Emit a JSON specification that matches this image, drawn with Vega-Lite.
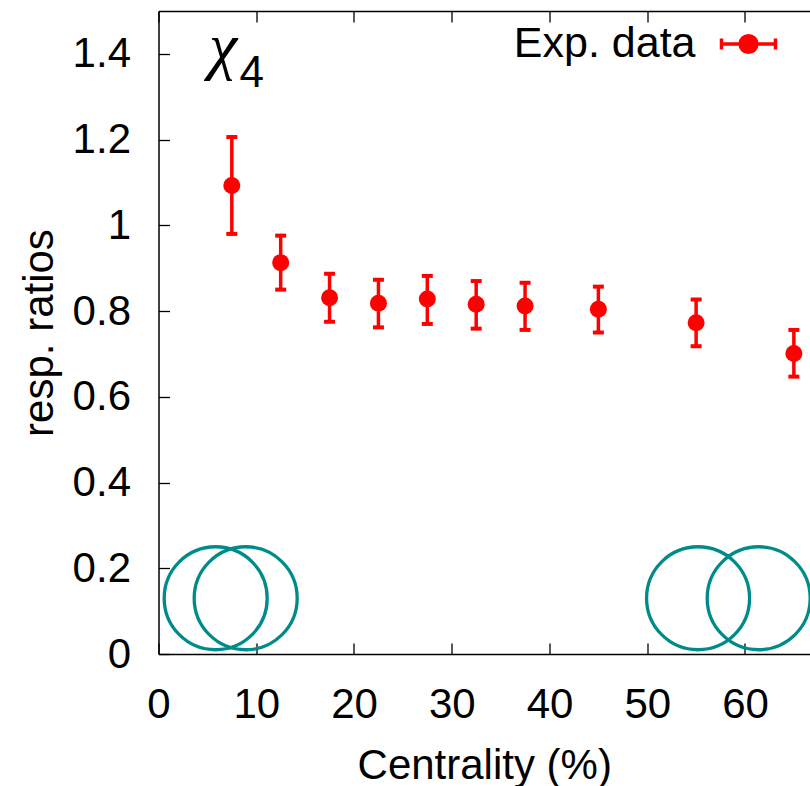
{
  "$schema": "https://vega.github.io/schema/vega-lite/v6.json",
  "autosize": {"type": "none"},
  "padding": {"left": 158.5, "top": 11, "right": 0, "bottom": 132},
  "width": 651.5,
  "height": 643,
  "background": "white",
  "config": {
    "view": {"stroke": null},
    "font": "Liberation Sans",
    "axis": {
      "grid": false,
      "domainColor": "#000000",
      "domainWidth": 1.5,
      "tickColor": "#000000",
      "tickWidth": 1.3,
      "tickSize": -11,
      "labelFont": "Liberation Sans",
      "labelFontSize": 42,
      "labelColor": "#000000",
      "labelFlush": false,
      "labelOverlap": false,
      "titleFont": "Liberation Sans",
      "titleFontSize": 42,
      "titleFontWeight": "normal",
      "titleColor": "#000000"
    },
    "axisLeft": {"labelPadding": 39, "titlePadding": 11},
    "axisBottom": {"labelPadding": 41, "titlePadding": 20}
  },
  "datasets": {
    "exp": [
      {"centrality": 7.5, "ratio": 1.093, "lo": 0.980, "hi": 1.206, "series": "Exp. data"},
      {"centrality": 12.5, "ratio": 0.913, "lo": 0.850, "hi": 0.976, "series": "Exp. data"},
      {"centrality": 17.5, "ratio": 0.831, "lo": 0.775, "hi": 0.887, "series": "Exp. data"},
      {"centrality": 22.5, "ratio": 0.818, "lo": 0.762, "hi": 0.873, "series": "Exp. data"},
      {"centrality": 27.5, "ratio": 0.828, "lo": 0.770, "hi": 0.882, "series": "Exp. data"},
      {"centrality": 32.5, "ratio": 0.816, "lo": 0.759, "hi": 0.870, "series": "Exp. data"},
      {"centrality": 37.5, "ratio": 0.812, "lo": 0.756, "hi": 0.866, "series": "Exp. data"},
      {"centrality": 45, "ratio": 0.804, "lo": 0.750, "hi": 0.857, "series": "Exp. data"},
      {"centrality": 55, "ratio": 0.773, "lo": 0.718, "hi": 0.827, "series": "Exp. data"},
      {"centrality": 65, "ratio": 0.701, "lo": 0.647, "hi": 0.756, "series": "Exp. data"}
    ],
    "nuclei": [
      {"centrality": 5.85, "ratio": 0.13},
      {"centrality": 8.92, "ratio": 0.13},
      {"centrality": 55.2, "ratio": 0.13},
      {"centrality": 61.4, "ratio": 0.13}
    ]
  },
  "resolve": {"axis": {"x": "independent"}},
  "layer": [
    {
      "data": {"name": "nuclei"},
      "mark": {"type": "point", "shape": "circle", "size": 10609, "filled": false, "stroke": "#008b8b", "strokeWidth": 3.3, "opacity": 1},
      "encoding": {
        "x": {"field": "centrality", "type": "quantitative", "scale": {"domain": [0, 66.65], "nice": false, "zero": false}, "title": "Centrality (%)", "axis": {"orient": "bottom", "values": [0, 10, 20, 30, 40, 50, 60]}},
        "y": {"field": "ratio", "type": "quantitative", "scale": {"domain": [0, 1.5], "nice": false}, "title": "resp. ratios", "axis": {"values": [0, 0.2, 0.4, 0.6, 0.8, 1, 1.2, 1.4], "format": ".1~f"}}
      }
    },
    {
      "data": {"name": "exp"},
      "mark": {"type": "rule", "color": "#ff0000", "strokeWidth": 3.5},
      "encoding": {
        "x": {"field": "centrality", "type": "quantitative", "title": null, "axis": {"orient": "top", "labels": false, "title": null, "values": [0, 10, 20, 30, 40, 50, 60]}},
        "y": {"field": "lo", "type": "quantitative", "title": "resp. ratios"},
        "y2": {"field": "hi"}
      }
    },
    {
      "data": {"name": "exp"},
      "mark": {"type": "tick", "orient": "horizontal", "color": "#ff0000", "size": 11, "thickness": 4, "opacity": 1},
      "encoding": {
        "x": {"field": "centrality", "type": "quantitative", "axis": null},
        "y": {"field": "lo", "type": "quantitative", "title": "resp. ratios"}
      }
    },
    {
      "data": {"name": "exp"},
      "mark": {"type": "tick", "orient": "horizontal", "color": "#ff0000", "size": 11, "thickness": 4, "opacity": 1},
      "encoding": {
        "x": {"field": "centrality", "type": "quantitative", "axis": null},
        "y": {"field": "hi", "type": "quantitative", "title": "resp. ratios"}
      }
    },
    {
      "data": {"name": "exp"},
      "mark": {"type": "point", "shape": "circle", "filled": true, "size": 289, "opacity": 1},
      "encoding": {
        "x": {"field": "centrality", "type": "quantitative", "axis": null},
        "y": {"field": "ratio", "type": "quantitative", "title": "resp. ratios"},
        "color": {
          "field": "series", "type": "nominal",
          "scale": {"range": ["#ff0000"]},
          "legend": {
            "orient": "none", "legendX": 561, "legendY": 4, "title": null, "padding": 0,
            "labelFont": "Liberation Sans", "labelFontSize": 43, "labelColor": "#000000",
            "labelAlign": "right", "labelOffset": -82, "labelLimit": 400,
            "symbolType": "M-1,0H1M-1,-0.2V0.2M1,-0.2V0.2M-0.31,0A0.31,0.31,0,1,0,0.31,0A0.31,0.31,0,1,0,-0.31,0Z",
            "symbolSize": 2916,
            "symbolStrokeWidth": 3.5,
            "symbolStrokeColor": "#ff0000",
            "symbolFillColor": "#ff0000",
            "encode": {"symbols": {"update": {"stroke": {"value": "#ff0000"}, "strokeWidth": {"value": 3.5}, "fill": {"value": "#ff0000"}, "opacity": {"value": 1}}}}
          }
        }
      }
    },
    {
      "data": {"values": [{"label": "χ"}]},
      "mark": {"type": "text", "font": "Liberation Serif", "fontStyle": "italic", "fontSize": 64, "align": "center", "baseline": "alphabetic", "color": "#000000"},
      "encoding": {
        "x": {"datum": 6.6, "type": "quantitative", "axis": null},
        "y": {"datum": 1.37, "type": "quantitative"},
        "text": {"field": "label"}
      }
    },
    {
      "data": {"values": [{"label": "4"}]},
      "mark": {"type": "text", "font": "Liberation Sans", "fontSize": 44, "align": "center", "baseline": "alphabetic", "color": "#000000"},
      "encoding": {
        "x": {"datum": 9.55, "type": "quantitative", "axis": null},
        "y": {"datum": 1.322, "type": "quantitative"},
        "text": {"field": "label"}
      }
    }
  ]
}
